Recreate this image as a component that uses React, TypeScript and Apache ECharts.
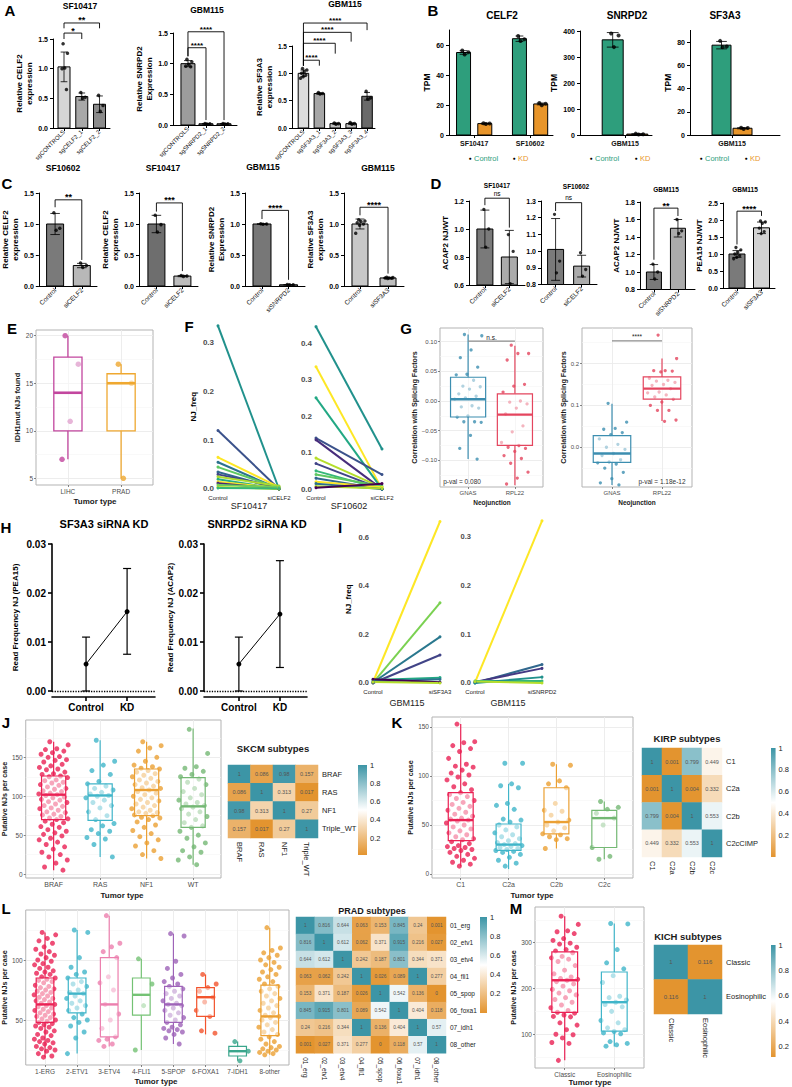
import React, { useEffect, useRef } from "react";
import * as echarts from "echarts";

const FONT = "'Liberation Sans', Arial, Helvetica, sans-serif";
const TEAL = "#3c95a6";
const ORNG = "#e3942f";
const GREEN_B = "#2e9e7c";
const ORANGE_B = "#e8952a";

/* ---------------- A ---------------- */
const aCelf2Cats = ["sgCONTROLS", "sgCELF2_1", "sgCELF2_2"];
const aCelf2Mean = [1.03, 0.53, 0.4];
const aCelf2Sd = [0.25, 0.06, 0.14];
const aCelf2Pts = [[1.42, 1.26, 1.01, 1.0, 0.65], [0.6, 0.52, 0.5], [0.55, 0.38, 0.28]];
const aCelf2Sig = ["*", "**"];
const aCelf2Brk = [[0, 1, 1.6, 1.5, 1.5], [0, 2, 1.77, 1.68, 1.68]];

const aSnrpd2Cats = ["sgCONTROLS", "sgSNRPD2_1", "sgSNRPD2_2"];
const aSnrpd2Mean = [1.0, 0.02, 0.02];
const aSnrpd2Sd = [0.05, 0.005, 0.005];
const aSnrpd2Pts = [[1.07, 1.03, 0.99, 0.96, 0.95], [0.026, 0.02, 0.018], [0.025, 0.021, 0.018]];
const aSnrpd2Sig = ["****", "****"];
const aSnrpd2Brk = [[0, 1, 1.26, 1.12, 0.08], [0, 2, 1.52, 1.12, 0.08]];

const aSf3a3Cats = ["sgCONTROLS", "sgSF3A3_1", "sgSF3A3_2", "sgSF3A3_3", "sgSF3A3_4"];
const aSf3a3Mean = [1.0, 0.63, 0.08, 0.08, 0.58];
const aSf3a3Sd = [0.06, 0.015, 0.012, 0.015, 0.07];
const aSf3a3Pts = [[1.09, 1.06, 1.03, 1.0, 0.97, 0.94, 0.91], [0.65, 0.63, 0.62], [0.09, 0.08, 0.07], [0.1, 0.08, 0.07], [0.67, 0.55, 0.53]];
const aSf3a3Sig = ["****", "****", "****", "****"];
const aSf3a3Brk = [[0, 1, 1.24, 1.14, 1.14], [0, 2, 1.55, 1.14, 1.36], [0, 3, 1.75, 1.14, 1.58], [0, 4, 1.92, 1.14, 1.79]];

/* ---------------- B ---------------- */
const bCelf2Lines = ["SF10417", "SF10602"];
const bCelf2CtrlMean = [55, 64.2];
const bCelf2CtrlSd = [1.2, 1.8];
const bCelf2CtrlPts = [[56.3, 55.2, 53.6], [66.0, 63.8, 62.6]];
const bCelf2KdMean = [7.6, 20.7];
const bCelf2KdSd = [0.3, 0.6];
const bCelf2KdPts = [[7.9, 7.6, 7.3], [21.4, 20.9, 19.9]];
const bSnrpd2Lines = ["GBM115"];
const bSnrpd2CtrlMean = [366];
const bSnrpd2CtrlSd = [28];
const bSnrpd2CtrlPts = [[390, 383, 338]];
const bSnrpd2KdMean = [3.5];
const bSnrpd2KdSd = [1.6];
const bSnrpd2KdPts = [[5.3, 3.1, 2.2]];
const bSf3a3Lines = ["GBM115"];
const bSf3a3CtrlMean = [77.3];
const bSf3a3CtrlSd = [3.2];
const bSf3a3CtrlPts = [[81, 76.2, 75.6]];
const bSf3a3KdMean = [5.8];
const bSf3a3KdSd = [0.5];
const bSf3a3KdPts = [[6.3, 6.0, 5.1]];
const bLegend = ["Control", "KD"];

/* ---------------- C ---------------- */
const cSf10602Cats = ["Control", "siCELF2"];
const cSf10602Mean = [1.0, 0.33];
const cSf10602Sd = [0.17, 0.035];
const cSf10602Pts = [[1.18, 0.93, 0.9], [0.37, 0.33, 0.3]];
const cSf10602Sig = ["**"];
const cSf10602Brk = [[0, 1, 1.39, 1.27, 0.42]];
const cSf10417Cats = ["Control", "siCELF2"];
const cSf10417Mean = [1.0, 0.16];
const cSf10417Sd = [0.14, 0.01];
const cSf10417Pts = [[1.14, 0.99, 0.87], [0.17, 0.16, 0.155]];
const cSf10417Sig = ["***"];
const cSf10417Brk = [[0, 1, 1.34, 1.2, 0.24]];
const cSnrpd2Cats = ["Control", "siSNRPD2"];
const cSnrpd2Mean = [1.0, 0.02];
const cSnrpd2Sd = [0.005, 0.003];
const cSnrpd2Pts = [[1.003, 1.0, 0.997], [0.024, 0.02, 0.018]];
const cSnrpd2Sig = ["****"];
const cSnrpd2Brk = [[0, 1, 1.22, 1.08, 0.1]];
const cSf3a3Cats = ["Control", "siSF3A3"];
const cSf3a3Mean = [1.0, 0.13];
const cSf3a3Sd = [0.08, 0.008];
const cSf3a3Pts = [[1.07, 1.05, 1.04, 1.02, 1.0, 0.98, 0.85], [0.14, 0.135, 0.13, 0.13, 0.125, 0.12]];
const cSf3a3Sig = ["****"];
const cSf3a3Brk = [[0, 1, 1.27, 1.14, 0.2]];

/* ---------------- D ---------------- */
const dSf10417Cats = ["Control", "siCELF2"];
const dSf10417Mean = [1.0, 0.8];
const dSf10417Sd = [0.135, 0.19];
const dSf10417Pts = [[1.14, 1.0, 0.87], [0.96, 0.84, 0.61]];
const dSf10417Sig = ["ns"];
const dSf10417Brk = [[0, 1, 1.22, 1.17, 1.01]];
const dSf10602Cats = ["Control", "siCELF2"];
const dSf10602Mean = [1.01, 0.91];
const dSf10602Sd = [0.185, 0.065];
const dSf10602Pts = [[1.22, 0.94, 0.87], [0.99, 0.89, 0.85]];
const dSf10602Sig = ["ns"];
const dSf10602Brk = [[0, 1, 1.29, 1.24, 1.0]];
const dAcap2Cats = ["Control", "siSNRPD2"];
const dAcap2Mean = [1.0, 1.5];
const dAcap2Sd = [0.085, 0.1];
const dAcap2Pts = [[1.09, 1.0, 0.92], [1.6, 1.47, 1.44]];
const dAcap2Sig = ["**"];
const dAcap2Brk = [[0, 1, 1.73, 1.14, 1.64]];
const dPea15Cats = ["Control", "siSF3A3"];
const dPea15Mean = [1.0, 1.77];
const dPea15Sd = [0.1, 0.17];
const dPea15Pts = [[1.19, 1.12, 1.05, 1.0, 0.95, 0.9, 0.86], [1.97, 1.94, 1.9, 1.76, 1.66, 1.6]];
const dPea15Sig = ["****"];
const dPea15Brk = [[0, 1, 2.26, 1.28, 2.12]];

/* ---------------- E ---------------- */
const eCats = ["LIHC", "PRAD"];
const eBox = [[7, 10, 14, 17.75, 20], [5, 10, 15, 16, 17]];
const eLihc = [20, 17, 11, 7];
const ePrad = [17, 15, 5];

/* ---------------- F ---------------- */
const fNames1 = ["Control", "siCELF2"];
const fSf10417Ctrl = [0.335, 0.12, 0.065, 0.055, 0.045, 0.035, 0.03, 0.025, 0.02, 0.015, 0.012, 0.008, 0.004, 0.002];
const fSf10417Kd = [0.0, 0.0, 0.004, 0.0, 0.002, 0.0, 0.003, 0.006, 0.0, 0.002, 0.0, 0.004, 0.0, 0.001];
const fSf10417Col = ["#21918c", "#3b528b", "#fde725", "#2c728e", "#5ec962", "#31688e", "#414487", "#addc30", "#28ae80", "#fde725", "#482878", "#6ece58", "#b5de2b", "#35b779"];
const fSf10602Ctrl = [0.445, 0.335, 0.25, 0.14, 0.135, 0.085, 0.07, 0.05, 0.04, 0.03, 0.02, 0.015, 0.008, 0.004];
const fSf10602Kd = [0.11, 0.0, 0.0, 0.04, 0.0, 0.004, 0.0, 0.0, 0.008, 0.0, 0.005, 0.0, 0.002, 0.015];
const fSf10602Col = ["#21918c", "#fde725", "#22a884", "#3b528b", "#472d7b", "#b5de2b", "#414487", "#35b779", "#5ec962", "#31688e", "#fde725", "#2c728e", "#addc30", "#440154"];

/* ---------------- G ---------------- */
const gCats = ["GNAS", "RPL22"];
const gAllBox = [[-0.098, -0.027, 0.003, 0.04, 0.112], [-0.142, -0.075, -0.023, 0.012, 0.093]];
const gAllGnas = [0.112, 0.11, 0.086, 0.073, 0.057, 0.045, 0.044, 0.035, 0.025, 0.024, 0.02, 0.012, 0.008, 0.005, 0.003, -0.008, -0.01, -0.012, -0.025, -0.027, -0.035, -0.035, -0.036, -0.058, -0.08, -0.098];
const gAllRpl22 = [0.094, 0.08, 0.08, 0.069, 0.028, 0.025, 0.015, 0.0, -0.002, -0.005, -0.012, -0.022, -0.042, -0.052, -0.07, -0.075, -0.078, -0.08, -0.085, -0.092, -0.097, -0.105, -0.12, -0.13, -0.14];
const gSfBox = [[-0.09, -0.036, -0.015, 0.028, 0.104], [0.063, 0.115, 0.14, 0.168, 0.212]];
const gSfGnas = [0.105, 0.06, 0.045, 0.043, 0.035, 0.03, 0.02, 0.007, 0.0, -0.005, -0.015, -0.02, -0.03, -0.035, -0.037, -0.04, -0.05, -0.06, -0.075, -0.085, -0.09];
const gSfRpl22 = [0.268, 0.212, 0.183, 0.183, 0.182, 0.18, 0.165, 0.16, 0.158, 0.155, 0.15, 0.148, 0.14, 0.132, 0.13, 0.125, 0.12, 0.115, 0.108, 0.1, 0.088, 0.088, 0.065, 0.062];
const gAllPval = "p-val = 0.080";
const gSfPval = "p-val = 1.18e-12";

/* ---------------- H ---------------- */
const hCats = ["Control", "KD"];
const hSf3a3Mean = [0.0055, 0.0162];
const hSf3a3Lo = [0.0, 0.0075];
const hSf3a3Hi = [0.011, 0.025];
const hSnrpd2Mean = [0.0055, 0.0157];
const hSnrpd2Lo = [0.0, 0.0048];
const hSnrpd2Hi = [0.011, 0.0266];

/* ---------------- I ---------------- */
const iNames1 = ["Control", "siSF3A3"];
const iSf3a3Ctrl = [0.003, 0.0, 0.002, 0.0, 0.012, 0.006, 0.015, 0.004];
const iSf3a3Kd = [0.665, 0.33, 0.19, 0.115, 0.022, 0.015, 0.003, 0.0];
const iSf3a3Col = ["#fde725", "#7ad151", "#2a788e", "#414487", "#22a884", "#2c728e", "#440154", "#b5de2b"];
const iNames2 = ["Control", "siSNRPD2"];
const iSnrpd2Ctrl = [0.001, 0.0, 0.002, 0.004, 0.0, 0.003];
const iSnrpd2Kd = [0.333, 0.038, 0.03, 0.004, 0.012, 0.0];
const iSnrpd2Col = ["#fde725", "#31688e", "#443983", "#35b779", "#21918c", "#b5de2b"];

/* ---------------- J ---------------- */
const jCats = ["BRAF", "RAS", "NF1", "WT"];
const jBox = [[5, 70, 102, 126, 170], [22, 69, 101, 116, 172], [20, 75, 108, 135, 170], [12, 60, 87, 124, 187]];
const jBraf = [170, 166, 161, 160, 158, 156, 154, 151, 150, 147, 146, 144, 141, 139, 137, 135, 134, 131, 129, 128, 126, 125, 124, 121, 120, 118, 117, 115, 114, 112, 110, 109, 107, 106, 104, 103, 102, 101, 99, 98, 96, 95, 93, 92, 90, 88, 87, 85, 84, 82, 80, 79, 77, 76, 74, 72, 71, 70, 68, 66, 64, 61, 60, 57, 55, 53, 51, 49, 46, 44, 41, 38, 35, 32, 28, 25, 22, 18, 14, 9, 5];
const jRas = [172, 145, 140, 133, 128, 119, 116, 113, 110, 108, 105, 103, 101, 100, 98, 95, 92, 88, 85, 80, 75, 70, 65, 62, 57, 55, 52, 47, 45, 38, 22];
const jNf1 = [170, 165, 162, 158, 150, 145, 140, 138, 136, 135, 133, 131, 129, 127, 125, 123, 121, 119, 117, 115, 113, 111, 110, 108, 106, 104, 102, 100, 98, 96, 94, 92, 90, 88, 86, 84, 82, 80, 79, 78, 76, 75, 73, 72, 70, 67, 63, 60, 56, 52, 48, 44, 40, 36, 30, 25, 20];
const jWt = [186, 155, 138, 136, 132, 128, 125, 122, 118, 115, 110, 106, 102, 98, 95, 92, 90, 88, 86, 84, 80, 77, 74, 70, 66, 62, 60, 55, 50, 46, 40, 35, 30, 28, 22, 18, 12];

/* ---------------- K ---------------- */
const kCats = ["C1", "C2a", "C2b", "C2c"];
const kBox = [[8, 34, 55, 83, 153], [5, 24, 30, 51, 92], [26, 41, 53, 88, 112], [15, 27, 57, 65, 74]];
const kC1 = [153, 135, 134, 131, 128, 125, 118, 112, 110, 109, 106, 103, 101, 99, 96, 92, 89, 86, 83, 81, 79, 77, 75, 73, 71, 69, 67, 65, 63, 61, 59, 57, 56, 55, 54, 52, 50, 48, 46, 44, 42, 40, 38, 36, 35, 33, 31, 29, 28, 27, 26, 25, 24, 22, 20, 18, 16, 14, 12, 10, 8];
const kC2a = [113, 113, 92, 90, 88, 72, 70, 66, 56, 55, 53, 50, 48, 45, 42, 40, 38, 36, 34, 32, 31, 30, 29, 28, 27, 26, 25, 24, 23, 22, 20, 17, 14, 11, 8];
const kC2b = [112, 111, 95, 92, 88, 72, 65, 64, 60, 55, 53, 50, 47, 44, 41, 40, 38, 36, 35, 26];
const kC2c = [74, 68, 66, 62, 57, 50, 27, 18, 15];

/* ---------------- L ---------------- */
const lCats = ["1-ERG", "2-ETV1", "3-ETV4", "4-FLI1", "5-SPOP", "6-FOXA1", "7-IDH1", "8-other"];
const lBox = [[19, 48, 63, 85, 123], [22, 56, 72, 85, 125], [28, 36, 63, 102, 137], [25, 54, 71, 85, 101], [30, 48, 63, 78, 122], [38, 53, 69, 77, 88], [16, 20, 24, 28, 32], [21, 37, 53, 79, 127]];
const lErg = [123, 121, 118, 116, 114, 111, 109, 107, 105, 104, 102, 100, 99, 97, 96, 94, 93, 91, 90, 89, 88, 86, 85, 84, 83, 82, 81, 79, 78, 77, 76, 75, 74, 73, 72, 71, 70, 69, 68, 67, 66, 65, 64, 63, 62, 61, 60, 59, 58, 57, 56, 55, 54, 53, 52, 51, 50, 49, 48, 47, 46, 45, 44, 43, 41, 40, 38, 37, 35, 34, 33, 32, 31, 30, 28, 27, 26, 25, 24, 22, 20, 19];
const lEtv1 = [125, 123, 102, 94, 90, 88, 85, 82, 80, 78, 75, 73, 72, 70, 68, 66, 64, 62, 60, 58, 55, 52, 50, 48, 45, 40, 35, 22];
const lEtv4 = [137, 114, 111, 107, 102, 86, 81, 75, 63, 55, 50, 43, 36, 34, 33, 30, 28];
const lFli1 = [101, 80, 62, 25];
const lSpop = [122, 120, 99, 93, 88, 85, 82, 80, 78, 76, 74, 72, 70, 68, 66, 64, 63, 62, 60, 58, 56, 54, 52, 50, 48, 46, 44, 43, 42, 41, 40, 38, 35, 30];
const lFoxa1 = [88, 80, 77, 74, 69, 65, 58, 53, 41, 39];
const lIdh1 = [32, 24, 16];
const lOther = [127, 110, 108, 106, 104, 102, 100, 98, 96, 94, 92, 90, 88, 86, 84, 82, 80, 78, 76, 74, 72, 70, 68, 66, 64, 62, 60, 58, 56, 54, 53, 52, 50, 48, 46, 44, 42, 40, 38, 36, 34, 32, 30, 28, 27, 26, 25, 24, 23, 22, 21];

/* ---------------- M ---------------- */
const mCats = ["Classic", "Eosinophilic"];
const mBox = [[43, 148, 218, 280, 358], [73, 107, 170, 236, 342]];
const mClassic = [358, 340, 326, 324, 320, 309, 305, 299, 297, 290, 285, 282, 278, 270, 267, 264, 259, 250, 240, 232, 225, 222, 220, 218, 215, 210, 205, 198, 195, 190, 186, 180, 176, 170, 164, 158, 152, 148, 146, 142, 139, 138, 125, 120, 110, 100, 99, 92, 82, 80, 43];
const mEosino = [342, 341, 285, 256, 243, 228, 213, 183, 180, 175, 170, 165, 160, 150, 130, 125, 114, 110, 106, 103, 101, 84, 80, 77, 74];

/* ---------------- heatmaps ---------------- */
const skcmLabels = ["BRAF", "RAS", "NF1", "Triple_WT"];
const skcmMat = [[1, 0.086, 0.98, 0.157], [0.086, 1, 0.313, 0.017], [0.98, 0.313, 1, 0.27], [0.157, 0.017, 0.27, 1]];
const kirpRows = ["C1", "C2a", "C2b", "C2cCIMP"];
const kirpCols = ["C1", "C2a", "C2b", "C2c"];
const kirpMat = [[1, 0.001, 0.799, 0.449], [0.001, 1, 0.004, 0.332], [0.799, 0.004, 1, 0.553], [0.449, 0.332, 0.553, 1]];
const pradLabels = ["01_erg", "02_etv1", "03_etv4", "04_fli1", "05_spop", "06_foxa1", "07_idh1", "08_other"];
const pradMat = [
  [1, 0.816, 0.644, 0.063, 0.153, 0.845, 0.24, 0.001],
  [0.816, 1, 0.612, 0.062, 0.371, 0.915, 0.216, 0.027],
  [0.644, 0.612, 1, 0.242, 0.187, 0.801, 0.344, 0.371],
  [0.063, 0.062, 0.242, 1, 0.026, 0.089, 1, 0.277],
  [0.153, 0.371, 0.187, 0.026, 1, 0.542, 0.136, 0],
  [0.845, 0.915, 0.801, 0.089, 0.542, 1, 0.404, 0.118],
  [0.24, 0.216, 0.344, 1, 0.136, 0.404, 1, 0.57],
  [0.001, 0.027, 0.371, 0.277, 0, 0.118, 0.57, 1],
];
const kichLabels = ["Classic", "Eosinophilic"];
const kichMat = [[1, 0.116], [0.116, 1]];
const cbTicks = [0.2, 0.4, 0.6, 0.8, 1];

/* ================= helpers ================= */
function jit(k: number): number {
  const f = (k * 0.6180339887 + 0.37) % 1;
  return f * 2 - 1;
}
function nearest(arr: number[], v: number): number {
  let bi = 0;
  let bd = Infinity;
  arr.forEach((a, i) => {
    const d = Math.abs(a - v);
    if (d < bd) { bd = d; bi = i; }
  });
  return bi;
}
function addGrid(o: any, l: number, t: number, w: number, h: number, extra: any = {}) {
  o.grid.push({ left: l, top: t, width: w, height: h, containLabel: false, ...extra });
  return o.grid.length - 1;
}
function addX(o: any, gi: number, opt: any) {
  o.xAxis.push({ gridIndex: gi, ...opt });
  return o.xAxis.length - 1;
}
function addY(o: any, gi: number, opt: any) {
  o.yAxis.push({ gridIndex: gi, ...opt });
  return o.yAxis.length - 1;
}
function txt(o: any, x: number, y: number, s: string, size: number, opt: any = {}) {
  const align = opt.align || "center";
  o.graphic.push({
    type: "text", x, y, rotation: opt.rot || 0, silent: true, z: 100,
    style: {
      text: s, fontSize: size, fontWeight: opt.bold ? "bold" : "normal", fontFamily: FONT,
      fill: opt.color || "#000", align, textAlign: align, verticalAlign: "middle", textVerticalAlign: "middle",
    },
  });
}
const errRender = (cap: number, lw: number) => (params: any, api: any) => {
  const x = api.value(0);
  const a = api.coord([x, api.value(1)]);
  const b = api.coord([x, api.value(2)]);
  const st = { stroke: "#000", lineWidth: lw };
  return {
    type: "group",
    children: [
      { type: "line", shape: { x1: a[0], y1: a[1], x2: b[0], y2: b[1] }, style: st },
      { type: "line", shape: { x1: a[0] - cap, y1: a[1], x2: a[0] + cap, y2: a[1] }, style: st },
      { type: "line", shape: { x1: b[0] - cap, y1: b[1], x2: b[0] + cap, y2: b[1] }, style: st },
    ],
  };
};

/* GraphPad-style bar chart */
function gpBars(o: any, s: any) {
  const gi = addGrid(o, s.left, s.top, s.width, s.height);
  const xi = addX(o, gi, {
    type: "value", min: s.xMin, max: s.xMax,
    axisLine: { show: true, onZero: false, lineStyle: { color: "#000", width: 1 } },
    axisTick: { show: true, length: 3, customValues: s.catPos, lineStyle: { color: "#000", width: 1 } },
    axisLabel: {
      customValues: s.catPos, formatter: (v: number) => s.cats[nearest(s.catPos, v)],
      rotate: s.rotate || 0, fontSize: s.catFont, fontWeight: s.catBold ? "bold" : "normal",
      color: "#111", margin: s.catMargin || 4, fontFamily: FONT,
    },
    splitLine: { show: false },
  });
  const nf = s.nameFont || 8;
  const yi = addY(o, gi, {
    type: "value", min: s.yMin, max: s.yMax,
    axisLine: { show: true, onZero: false, lineStyle: { color: "#000", width: 1 } },
    axisTick: { show: true, length: 3, customValues: s.ticks, lineStyle: { color: "#000", width: 1 } },
    axisLabel: {
      customValues: s.ticks, formatter: (v: number) => v.toFixed(s.dec),
      fontSize: s.tickFont, fontWeight: "bold", color: "#000", margin: 5, fontFamily: FONT,
    },
    splitLine: { show: false },
    name: s.yName || "", nameLocation: "middle", nameGap: s.yNameGap,
    nameTextStyle: { fontSize: nf, fontWeight: "bold", color: "#000", fontFamily: FONT, lineHeight: nf * 1.2 },
  });
  const bars = s.bars;
  o.series.push({
    type: "custom", xAxisIndex: xi, yAxisIndex: yi, z: 2, silent: true, clip: false,
    data: bars.map((b: any, i: number) => [b.x, b.mean, i]),
    renderItem: (params: any, api: any) => {
      const i = api.value(2);
      const p0 = api.coord([api.value(0), s.yMin]);
      const p1 = api.coord([api.value(0), api.value(1)]);
      return {
        type: "rect",
        shape: { x: p0[0] - s.barW / 2, y: p1[1], width: s.barW, height: p0[1] - p1[1] },
        style: { fill: bars[i].color, stroke: "#000", lineWidth: 1 },
      };
    },
  });
  o.series.push({
    type: "custom", xAxisIndex: xi, yAxisIndex: yi, z: 3, silent: true, clip: false,
    data: bars.map((b: any) => [b.x, b.mean - b.sd, b.mean + b.sd]),
    renderItem: errRender(s.barW * 0.28, 0.8),
  });
  const pts: number[][] = [];
  bars.forEach((b: any) => b.pts.forEach((v: number, k: number) => pts.push([b.x + jit(k) * s.jw, v])));
  o.series.push({
    type: "scatter", xAxisIndex: xi, yAxisIndex: yi, z: 4, silent: true, clip: false,
    data: pts, symbolSize: s.ptSize, itemStyle: { color: "#000" },
  });
  if (s.brk) {
    o.series.push({
      type: "custom", xAxisIndex: xi, yAxisIndex: yi, z: 5, silent: true, clip: false,
      data: s.brk.map((b: number[], i: number) => [b[0], b[1], b[2], b[3], b[4], i]),
      renderItem: (params: any, api: any) => {
        const xa = bars[api.value(0)].x;
        const xb = bars[api.value(1)].x;
        const yl = api.value(2);
        const a0 = api.coord([xa, api.value(3)]);
        const a1 = api.coord([xa, yl]);
        const b1 = api.coord([xb, yl]);
        const b0 = api.coord([xb, api.value(4)]);
        const label = s.sig[api.value(5)];
        const isNs = label === "ns";
        return {
          type: "group",
          children: [
            { type: "polyline", shape: { points: [a0, a1, b1, b0] }, style: { stroke: "#000", lineWidth: 0.9, fill: "none" } },
            {
              type: "text", x: (a1[0] + b1[0]) / 2, y: a1[1] - (isNs ? 5 : 2.5),
              style: {
                text: label, fontSize: isNs ? 6.5 : s.sigFont, fontWeight: isNs ? "normal" : "bold", fill: "#000", fontFamily: FONT,
                align: "center", textAlign: "center", verticalAlign: "middle", textVerticalAlign: "middle",
              },
            },
          ],
        };
      },
    });
  }
}

function simpleBars(means: number[], sd: number[], pts: number[][], colors: string[]) {
  return means.map((m, i) => ({ x: i, mean: m, sd: sd[i], pts: pts[i], color: colors[i] }));
}

/* ggplot-style boxplot */
function ggBox(o: any, s: any) {
  const n = s.cats.length;
  const pos = s.cats.map((_: any, i: number) => i);
  const gi = addGrid(o, s.left, s.top, s.width, s.height, { show: true, borderColor: "#b3b3b3", borderWidth: 1, backgroundColor: "#fff" });
  const xi = addX(o, gi, {
    type: "value", min: -0.6, max: n - 0.4,
    axisLine: { show: false, onZero: false },
    axisTick: { show: true, length: 2, customValues: pos, lineStyle: { color: "#666", width: 0.8 } },
    axisLabel: { customValues: pos, formatter: (v: number) => s.cats[Math.round(v)], fontSize: s.catFont, color: "#4d4d4d", margin: 3, fontFamily: FONT },
    splitLine: { show: true, lineStyle: { color: "#ebebeb", width: 0.9 } },
  });
  const yi = addY(o, gi, {
    type: "value", min: s.yMin, max: s.yMax,
    axisLine: { show: false, onZero: false },
    axisTick: { show: true, length: 2, customValues: s.ticks, lineStyle: { color: "#666", width: 0.8 } },
    axisLabel: { customValues: s.ticks, formatter: s.fmt, fontSize: s.tickFont, color: "#4d4d4d", margin: 3, fontFamily: FONT },
    splitLine: { show: true, lineStyle: { color: "#ebebeb", width: 0.9 } },
    name: s.yName, nameLocation: "middle", nameGap: s.yNameGap,
    nameTextStyle: { fontSize: s.nameFont, fontWeight: "bold", color: "#1a1a1a", fontFamily: FONT },
  });
  addY(o, gi, {
    type: "value", min: s.yMin, max: s.yMax, position: "left",
    axisLine: { show: false, onZero: false },
    axisTick: { show: false, customValues: s.minor },
    axisLabel: { show: false, customValues: s.minor },
    splitLine: { show: true, lineStyle: { color: "#f5f5f5", width: 0.6 } },
  });
  const data: any[] = [];
  s.pts.forEach((arr: number[], i: number) =>
    arr.forEach((v: number, k: number) => data.push({ value: [i + jit(k) * s.jw, v], itemStyle: { color: s.colors[i] } }))
  );
  o.series.push({ type: "scatter", xAxisIndex: xi, yAxisIndex: yi, z: 2, silent: true, data, symbolSize: s.ptSize });
  const lw = s.lw || 1.1;
  o.series.push({
    type: "custom", xAxisIndex: xi, yAxisIndex: yi, z: 3, silent: true, clip: false,
    data: s.boxes.map((b: number[], i: number) => [i, b[0], b[1], b[2], b[3], b[4]]),
    renderItem: (params: any, api: any) => {
      const i = api.value(0);
      const c = s.colors[i];
      const lo = api.coord([i, api.value(1)]);
      const q1 = api.coord([i, api.value(2)]);
      const md = api.coord([i, api.value(3)]);
      const q3 = api.coord([i, api.value(4)]);
      const hi = api.coord([i, api.value(5)]);
      const hw = api.size([s.boxW, 0])[0] / 2;
      const ls = { stroke: c, lineWidth: lw };
      return {
        type: "group",
        children: [
          { type: "line", shape: { x1: hi[0], y1: hi[1], x2: q3[0], y2: q3[1] }, style: ls },
          { type: "line", shape: { x1: q1[0], y1: q1[1], x2: lo[0], y2: lo[1] }, style: ls },
          { type: "rect", shape: { x: q3[0] - hw, y: q3[1], width: 2 * hw, height: q1[1] - q3[1] }, style: { fill: "rgba(255,255,255,0.5)", stroke: c, lineWidth: lw } },
          { type: "line", shape: { x1: md[0] - hw, y1: md[1], x2: md[0] + hw, y2: md[1] }, style: { stroke: c, lineWidth: lw * 2 } },
        ],
      };
    },
  });
  if (s.sig) {
    o.series.push({
      type: "custom", xAxisIndex: xi, yAxisIndex: yi, z: 4, silent: true, clip: false,
      data: [[s.sig.x0, s.sig.x1, s.sig.y]],
      renderItem: (params: any, api: any) => {
        const a = api.coord([api.value(0), api.value(2)]);
        const b = api.coord([api.value(1), api.value(2)]);
        return {
          type: "group",
          children: [
            { type: "line", shape: { x1: a[0], y1: a[1], x2: b[0], y2: b[1] }, style: { stroke: "#8c8c8c", lineWidth: 1.2 } },
            {
              type: "text", x: (a[0] + b[0]) / 2, y: a[1] - 4,
              style: { text: s.sig.text, fontSize: 6.5, fill: "#222", fontFamily: FONT, align: "center", textAlign: "center", verticalAlign: "middle", textVerticalAlign: "middle" },
            },
          ],
        };
      },
    });
  }
}

/* paired line chart */
function pairLines(o: any, s: any) {
  const gi = addGrid(o, s.left, s.top, s.width, s.height);
  const xi = addX(o, gi, {
    type: "category", data: s.xNames, boundaryGap: false,
    axisLine: { show: false, onZero: false }, axisTick: { show: false },
    axisLabel: { fontSize: s.xFont, color: "#1a1a1a", margin: s.xMargin, interval: 0, fontFamily: FONT },
    splitLine: { show: false },
  });
  const yi = addY(o, gi, {
    type: "value", min: s.yMin, max: s.yMax,
    axisLine: { show: false, onZero: false }, axisTick: { show: false },
    axisLabel: { customValues: s.ticks, formatter: (v: number) => v.toFixed(1), fontSize: s.tickFont, fontWeight: "bold", color: "#4d4d4d", margin: 4, fontFamily: FONT },
    splitLine: { show: false },
    name: s.yName || "", nameLocation: "middle", nameGap: s.yNameGap || 20,
    nameTextStyle: { fontSize: 8, fontWeight: "bold", color: "#000", fontFamily: FONT },
  });
  s.starts.forEach((v: number, i: number) => {
    o.series.push({
      type: "line", xAxisIndex: xi, yAxisIndex: yi, z: 2, silent: true,
      data: [v, s.ends[i]], symbol: "circle", symbolSize: 3, showSymbol: true,
      lineStyle: { color: s.colors[i], width: 2 }, itemStyle: { color: s.colors[i] },
    });
  });
}

/* point + range chart (H) */
function pointRange(o: any, s: any) {
  const gi = addGrid(o, s.left, s.top, s.width, s.height);
  const pos = s.cats.map((_: any, i: number) => i);
  const xi = addX(o, gi, {
    type: "value", min: s.xMin, max: s.xMax, offset: 6,
    axisLine: { show: true, onZero: false, lineStyle: { color: "#000", width: 1.6 } },
    axisTick: { show: true, length: 4, customValues: pos, lineStyle: { color: "#000", width: 1.6 } },
    axisLabel: { customValues: pos, formatter: (v: number) => s.cats[Math.round(v)], fontSize: 10, fontWeight: "bold", color: "#000", margin: 5, fontFamily: FONT },
    splitLine: { show: false },
  });
  const yi = addY(o, gi, {
    type: "value", min: 0, max: 0.03,
    axisLine: { show: true, onZero: false, lineStyle: { color: "#000", width: 1.6 } },
    axisTick: { show: true, length: 4, customValues: [0, 0.01, 0.02, 0.03], lineStyle: { color: "#000", width: 1.6 } },
    axisLabel: { customValues: [0, 0.01, 0.02, 0.03], formatter: (v: number) => v.toFixed(2), fontSize: 10, fontWeight: "bold", color: "#000", margin: 6, fontFamily: FONT },
    splitLine: { show: false },
    name: s.yName, nameLocation: "middle", nameGap: s.yNameGap,
    nameTextStyle: { fontSize: 8, fontWeight: "bold", color: "#000", fontFamily: FONT },
  });
  o.series.push({
    type: "line", xAxisIndex: xi, yAxisIndex: yi, z: 4, silent: true,
    data: s.mean.map((m: number, i: number) => [i, m]),
    symbol: "circle", symbolSize: 5, lineStyle: { color: "#000", width: 1 }, itemStyle: { color: "#000" },
    markLine: { silent: true, symbol: ["none", "none"], label: { show: false }, lineStyle: { type: "dotted", color: "#000", width: 1.3 }, data: [{ yAxis: 0 }] },
  });
  o.series.push({
    type: "custom", xAxisIndex: xi, yAxisIndex: yi, z: 3, silent: true, clip: false,
    data: s.mean.map((m: number, i: number) => [i, s.lo[i], s.hi[i]]),
    renderItem: errRender(4, 1.2),
  });
}

/* heatmap + colour bar */
function heat(o: any, s: any) {
  const gi = addGrid(o, s.left, s.top, s.width, s.height);
  const xi = addX(o, gi, {
    type: "category", data: s.cols, position: "bottom",
    axisLine: { show: false }, axisTick: { show: false },
    axisLabel: { rotate: -90, fontSize: s.labelFont, color: "#1a1a1a", margin: 4, interval: 0, fontFamily: FONT },
    splitLine: { show: false },
  });
  const yi = addY(o, gi, {
    type: "category", data: s.rows, inverse: true, position: "right",
    axisLine: { show: false }, axisTick: { show: false },
    axisLabel: { fontSize: s.labelFont, color: "#1a1a1a", margin: 4, interval: 0, fontFamily: FONT },
    splitLine: { show: false },
  });
  const data: number[][] = [];
  s.mat.forEach((row: number[], r: number) => row.forEach((v: number, c: number) => data.push([c, r, v])));
  const si = o.series.length;
  o.series.push({
    type: "heatmap", xAxisIndex: xi, yAxisIndex: yi, silent: true, data,
    label: { show: true, fontSize: s.cellFont, color: "#555", fontFamily: FONT, formatter: (p: any) => String(p.value[2]) },
    itemStyle: { borderWidth: 0 },
  });
  o.visualMap.push({ type: "continuous", show: false, seriesIndex: si, dimension: 2, min: s.vmin, max: 1, inRange: { color: [ORNG, "#ffffff", TEAL] } });
  const cg = addGrid(o, s.cb[0], s.cb[1], s.cb[2], s.cb[3]);
  const cx = addX(o, cg, { type: "value", min: 0, max: 1, show: false });
  const cy = addY(o, cg, {
    type: "value", min: s.vmin, max: 1, position: "right",
    axisLine: { show: false, onZero: false }, axisTick: { show: false },
    axisLabel: { customValues: cbTicks, formatter: (v: number) => (v === 1 ? "1" : v.toFixed(1)), fontSize: 7.5, color: "#1a1a1a", margin: 3, fontFamily: FONT },
    splitLine: { show: false },
  });
  o.series.push({
    type: "custom", xAxisIndex: cx, yAxisIndex: cy, silent: true, data: [[0.5, 0.5]],
    renderItem: (params: any) => {
      const cs = params.coordSys;
      return {
        type: "rect",
        shape: { x: cs.x, y: cs.y, width: cs.width, height: cs.height },
        style: {
          fill: new echarts.graphic.LinearGradient(0, 0, 0, 1, [
            { offset: 0, color: TEAL },
            { offset: 0.5, color: "#ffffff" },
            { offset: 1, color: ORNG },
          ]),
        },
      };
    },
  });
}

/* ================= build ================= */
function buildOption() {
  const o: any = { grid: [], xAxis: [], yAxis: [], series: [], visualMap: [], graphic: [] };

  /* ---- A ---- */
  gpBars(o, {
    left: 53, top: 39, width: 57, height: 89, xMin: -0.62, xMax: 2.59, yMin: 0, yMax: 1.5, ticks: [0, 0.5, 1, 1.5], dec: 1,
    catPos: [0, 1, 2], cats: aCelf2Cats, rotate: 45, catFont: 6, catMargin: 3,
    bars: simpleBars(aCelf2Mean, aCelf2Sd, aCelf2Pts, ["#d6d6d6", "#a8a8a8", "#8a8a8a"]),
    barW: 12, jw: 0.2, ptSize: 3.5, brk: aCelf2Brk, sig: aCelf2Sig, sigFont: 9,
    yName: "Relative CELF2\nexpression", yNameGap: 17, tickFont: 7,
  });
  gpBars(o, {
    left: 173, top: 33, width: 64, height: 92, xMin: -0.83, xMax: 2.72, yMin: 0, yMax: 1.5, ticks: [0, 0.5, 1, 1.5], dec: 1,
    catPos: [0, 1, 2], cats: aSnrpd2Cats, rotate: 45, catFont: 6, catMargin: 3,
    bars: simpleBars(aSnrpd2Mean, aSnrpd2Sd, aSnrpd2Pts, ["#9c9c9c", "#9c9c9c", "#9c9c9c"]),
    barW: 14, jw: 0.22, ptSize: 3.5, brk: aSnrpd2Brk, sig: aSnrpd2Sig, sigFont: 8,
    yName: "Relative SNRPD2\nExpression", yNameGap: 14, tickFont: 7,
  });
  gpBars(o, {
    left: 292, top: 46, width: 83, height: 82, xMin: -0.72, xMax: 4.5, yMin: 0, yMax: 1.5, ticks: [0, 0.5, 1, 1.5], dec: 1,
    catPos: [0, 1, 2, 3, 4], cats: aSf3a3Cats, rotate: 45, catFont: 6, catMargin: 3,
    bars: simpleBars(aSf3a3Mean, aSf3a3Sd, aSf3a3Pts, ["#dcdcdc", "#a6a6a6", "#bdbdbd", "#bdbdbd", "#6a6a6a"]),
    barW: 10.5, jw: 0.22, ptSize: 3.5, brk: aSf3a3Brk, sig: aSf3a3Sig, sigFont: 8,
    yName: "Relative SF3A3\nexpression", yNameGap: 15, tickFont: 6.5,
  });

  /* ---- B ---- */
  const bBarsCelf2 = [
    { x: -0.19, mean: bCelf2CtrlMean[0], sd: bCelf2CtrlSd[0], pts: bCelf2CtrlPts[0], color: GREEN_B },
    { x: 0.19, mean: bCelf2KdMean[0], sd: bCelf2KdSd[0], pts: bCelf2KdPts[0], color: ORANGE_B },
    { x: 0.81, mean: bCelf2CtrlMean[1], sd: bCelf2CtrlSd[1], pts: bCelf2CtrlPts[1], color: GREEN_B },
    { x: 1.19, mean: bCelf2KdMean[1], sd: bCelf2KdSd[1], pts: bCelf2KdPts[1], color: ORANGE_B },
  ];
  gpBars(o, {
    left: 449, top: 30, width: 104, height: 105, xMin: -0.45, xMax: 1.41, yMin: 0, yMax: 70, ticks: [0, 20, 40, 60], dec: 0,
    catPos: [0, 1], cats: bCelf2Lines, catFont: 7, catBold: true, catMargin: 5,
    bars: bBarsCelf2, barW: 14, jw: 0.09, ptSize: 4, yName: "TPM", yNameGap: 14, tickFont: 7, nameFont: 8.5,
  });
  gpBars(o, {
    left: 580, top: 31, width: 72, height: 104, xMin: -0.75, xMax: 0.45, yMin: 0, yMax: 400, ticks: [0, 100, 200, 300, 400], dec: 0,
    catPos: [0], cats: bSnrpd2Lines, catFont: 7, catBold: true, catMargin: 5,
    bars: [
      { x: -0.205, mean: bSnrpd2CtrlMean[0], sd: bSnrpd2CtrlSd[0], pts: bSnrpd2CtrlPts[0], color: GREEN_B },
      { x: 0.205, mean: bSnrpd2KdMean[0], sd: bSnrpd2KdSd[0], pts: bSnrpd2KdPts[0], color: ORANGE_B },
    ],
    barW: 21, jw: 0.1, ptSize: 4, yName: "TPM", yNameGap: 19, tickFont: 7, nameFont: 8.5,
  });
  gpBars(o, {
    left: 690, top: 30.4, width: 90, height: 104.6, xMin: -0.7, xMax: 0.8, yMin: 0, yMax: 90, ticks: [0, 20, 40, 60, 80], dec: 0,
    catPos: [0], cats: bSf3a3Lines, catFont: 7, catBold: true, catMargin: 5,
    bars: [
      { x: -0.175, mean: bSf3a3CtrlMean[0], sd: bSf3a3CtrlSd[0], pts: bSf3a3CtrlPts[0], color: GREEN_B },
      { x: 0.175, mean: bSf3a3KdMean[0], sd: bSf3a3KdSd[0], pts: bSf3a3KdPts[0], color: ORANGE_B },
    ],
    barW: 19, jw: 0.09, ptSize: 4, yName: "TPM", yNameGap: 14, tickFont: 7, nameFont: 8.5,
  });

  /* ---- C ---- */
  const cCommon = { top: 193, height: 93, yMin: 0, yMax: 1.5, ticks: [0, 0.5, 1, 1.5], dec: 1, catPos: [0, 1], rotate: 45, catFont: 6.5, catMargin: 3, jw: 0.18, ptSize: 3.5, sigFont: 9, tickFont: 7 };
  gpBars(o, { ...cCommon, left: 38, width: 59, xMin: -0.61, xMax: 1.57, cats: cSf10602Cats,
    bars: simpleBars(cSf10602Mean, cSf10602Sd, cSf10602Pts, ["#7a7a7a", "#b8b8b8"]), barW: 17,
    brk: cSf10602Brk, sig: cSf10602Sig, yName: "Relative CELF2\nexpression", yNameGap: 18 });
  gpBars(o, { ...cCommon, left: 139, width: 59, xMin: -0.67, xMax: 1.6, cats: cSf10417Cats,
    bars: simpleBars(cSf10417Mean, cSf10417Sd, cSf10417Pts, ["#6e6e6e", "#bcbcbc"]), barW: 17,
    brk: cSf10417Brk, sig: cSf10417Sig, yName: "Relative CELF2\nexpression", yNameGap: 19 });
  gpBars(o, { ...cCommon, left: 245, width: 60, xMin: -0.64, xMax: 1.62, cats: cSnrpd2Cats,
    bars: simpleBars(cSnrpd2Mean, cSnrpd2Sd, cSnrpd2Pts, ["#777777", "#9a9a9a"]), barW: 18,
    brk: cSnrpd2Brk, sig: cSnrpd2Sig, yName: "Relative SNRPD2\nExpression", yNameGap: 18 });
  gpBars(o, { ...cCommon, left: 344, width: 60, xMin: -0.57, xMax: 1.57, cats: cSf3a3Cats,
    bars: simpleBars(cSf3a3Mean, cSf3a3Sd, cSf3a3Pts, ["#c8c8c8", "#bdbdbd"]), barW: 16,
    brk: cSf3a3Brk, sig: cSf3a3Sig, yName: "Relative SF3A3\nexpression", yNameGap: 12 });

  /* ---- D ---- */
  const dCommon = { catPos: [0, 1], rotate: 45, catFont: 6.5, catMargin: 3, jw: 0.16, ptSize: 3.3, sigFont: 9, tickFont: 7 };
  gpBars(o, { ...dCommon, left: 469, top: 201, width: 56, height: 84, xMin: -0.65, xMax: 1.64, yMin: 0.6, yMax: 1.2, ticks: [0.6, 0.8, 1.0, 1.2], dec: 1,
    cats: dSf10417Cats, bars: simpleBars(dSf10417Mean, dSf10417Sd, dSf10417Pts, ["#7a7a7a", "#ababab"]), barW: 16,
    brk: dSf10417Brk, sig: dSf10417Sig, yName: "ACAP2 NJ/WT", yNameGap: 17 });
  gpBars(o, { ...dCommon, left: 541, top: 201, width: 56, height: 83.5, xMin: -0.56, xMax: 1.59, yMin: 0.8, yMax: 1.3, ticks: [0.8, 0.9, 1.0, 1.1, 1.2, 1.3], dec: 1,
    cats: dSf10602Cats, bars: simpleBars(dSf10602Mean, dSf10602Sd, dSf10602Pts, ["#7a7a7a", "#ababab"]), barW: 16,
    brk: dSf10602Brk, sig: dSf10602Sig, yName: "", yNameGap: 17 });
  gpBars(o, { ...dCommon, left: 640, top: 202, width: 55, height: 87.5, xMin: -0.58, xMax: 1.71, yMin: 0.8, yMax: 1.8, ticks: [0.8, 1.0, 1.2, 1.4, 1.6, 1.8], dec: 1,
    cats: dAcap2Cats, bars: simpleBars(dAcap2Mean, dAcap2Sd, dAcap2Pts, ["#7a7a7a", "#ababab"]), barW: 15,
    brk: dAcap2Brk, sig: dAcap2Sig, yName: "ACAP2 NJ/WT", yNameGap: 17 });
  gpBars(o, { ...dCommon, left: 723, top: 203, width: 52, height: 85, xMin: -0.57, xMax: 1.55, yMin: 0, yMax: 2.5, ticks: [0, 0.5, 1.0, 1.5, 2.0, 2.5], dec: 1,
    cats: dPea15Cats, bars: simpleBars(dPea15Mean, dPea15Sd, dPea15Pts, ["#7a7a7a", "#d2d2d2"]), barW: 16,
    brk: dPea15Brk, sig: dPea15Sig, yName: "PEA15 NJ/WT", yNameGap: 16 });

  /* ---- E ---- */
  ggBox(o, {
    left: 36, top: 330, width: 117, height: 155, yMin: 4.3, yMax: 20.6, ticks: [5, 10, 15, 20], minor: [7.5, 12.5, 17.5],
    fmt: (v: number) => String(v), cats: eCats, boxes: eBox, pts: [eLihc, ePrad], colors: ["#c2469e", "#efa830"],
    ptSize: 5.5, jw: 0.2, boxW: 0.53, lw: 1.3, yName: "IDH1mut NJs found", yNameGap: 13, nameFont: 7.5, catFont: 6.5, tickFont: 6.5,
  });

  /* ---- F ---- */
  pairLines(o, { left: 218, top: 321, width: 61, height: 171.4, yMin: -0.007, yMax: 0.345, ticks: [0, 0.1, 0.2, 0.3], xNames: fNames1,
    starts: fSf10417Ctrl, ends: fSf10417Kd, colors: fSf10417Col, tickFont: 8, xFont: 6, xMargin: 3, yName: "NJ_freq", yNameGap: 21 });
  pairLines(o, { left: 316, top: 323, width: 66, height: 169.4, yMin: -0.009, yMax: 0.455, ticks: [0, 0.1, 0.2, 0.3, 0.4], xNames: fNames1,
    starts: fSf10602Ctrl, ends: fSf10602Kd, colors: fSf10602Col, tickFont: 8, xFont: 6, xMargin: 3 });

  /* ---- G ---- */
  const gFmt2 = (v: number) => (v < 0 ? "\u2212" : "") + Math.abs(v).toFixed(2);
  ggBox(o, {
    left: 440, top: 328, width: 103, height: 159, yMin: -0.145, yMax: 0.123, ticks: [-0.1, -0.05, 0, 0.05, 0.1], minor: [-0.125, -0.075, -0.025, 0.025, 0.075],
    fmt: gFmt2, cats: gCats, boxes: gAllBox, pts: [gAllGnas, gAllRpl22], colors: ["#3c8eb0", "#e4455e"],
    ptSize: 3.3, jw: 0.3, boxW: 0.75, lw: 1.2, yName: "Correlation with Splicing Factors", yNameGap: 20, nameFont: 7.2, catFont: 6, tickFont: 6,
    sig: { x0: 0, x1: 1, y: 0.101, text: "n.s." },
  });
  ggBox(o, {
    left: 582, top: 328, width: 110, height: 159, yMin: -0.095, yMax: 0.285, ticks: [0, 0.1, 0.2], minor: [-0.05, 0.05, 0.15, 0.25],
    fmt: (v: number) => v.toFixed(1), cats: gCats, boxes: gSfBox, pts: [gSfGnas, gSfRpl22], colors: ["#3c8eb0", "#e4455e"],
    ptSize: 3.3, jw: 0.3, boxW: 0.75, lw: 1.2, yName: "Correlation with Splicing Factors", yNameGap: 14, nameFont: 7.2, catFont: 6, tickFont: 6,
    sig: { x0: 0, x1: 1, y: 0.254, text: "****" },
  });

  /* ---- H ---- */
  pointRange(o, { left: 52, top: 544, width: 103, height: 147, xMin: -0.83, xMax: 1.68, cats: hCats,
    mean: hSf3a3Mean, lo: hSf3a3Lo, hi: hSf3a3Hi, yName: "Read Frequency NJ (PEA15)", yNameGap: 33 });
  pointRange(o, { left: 204, top: 544, width: 103, height: 147, xMin: -0.85, xMax: 1.66, cats: hCats,
    mean: hSnrpd2Mean, lo: hSnrpd2Lo, hi: hSnrpd2Hi, yName: "Read Frequency NJ (ACAP2)", yNameGap: 30 });

  /* ---- I ---- */
  pairLines(o, { left: 373, top: 513, width: 67, height: 172.4, yMin: -0.01, yMax: 0.7, ticks: [0, 0.2, 0.4, 0.6], xNames: iNames1,
    starts: iSf3a3Ctrl, ends: iSf3a3Kd, colors: iSf3a3Col, tickFont: 7.5, xFont: 6, xMargin: 4, yName: "NJ_freq", yNameGap: 21 });
  pairLines(o, { left: 475, top: 515, width: 67, height: 170.4, yMin: -0.005, yMax: 0.345, ticks: [0, 0.1, 0.2, 0.3], xNames: iNames2,
    starts: iSnrpd2Ctrl, ends: iSnrpd2Kd, colors: iSnrpd2Col, tickFont: 7.5, xFont: 6, xMargin: 4 });

  /* ---- J ---- */
  const jkColors = ["#ea2154", "#40b5c9", "#eba033", "#74b874"];
  ggBox(o, {
    left: 23, top: 720, width: 198, height: 158, yMin: -5.1, yMax: 198, ticks: [0, 50, 100, 150], minor: [25, 75, 125, 175],
    fmt: (v: number) => String(v), cats: jCats, boxes: jBox, pts: [jBraf, jRas, jNf1, jWt], colors: jkColors,
    ptSize: 5, jw: 0.32, boxW: 0.52, lw: 1.2, yName: "Putative NJs per case", yNameGap: 12, nameFont: 7.2, catFont: 7, tickFont: 6.5,
  });
  heat(o, { left: 228, top: 765, width: 90, height: 73, rows: skcmLabels, cols: skcmLabels, mat: skcmMat, vmin: 0.017,
    cellFont: 5.5, labelFont: 7.5, cb: [358, 765, 9, 90] });

  /* ---- K ---- */
  ggBox(o, {
    left: 432, top: 717, width: 201, height: 161, yMin: -4.1, yMax: 160.2, ticks: [0, 50, 100, 150], minor: [25, 75, 125],
    fmt: (v: number) => String(v), cats: kCats, boxes: kBox, pts: [kC1, kC2a, kC2b, kC2c], colors: jkColors,
    ptSize: 5, jw: 0.3, boxW: 0.52, lw: 1.2, yName: "Putative NJs per case", yNameGap: 15, nameFont: 7.2, catFont: 7, tickFont: 6.5,
  });
  heat(o, { left: 642, top: 748, width: 80, height: 109, rows: kirpRows, cols: kirpCols, mat: kirpMat, vmin: 0.001,
    cellFont: 5.5, labelFont: 7.5, cb: [771, 748, 8, 109] });

  /* ---- L ---- */
  ggBox(o, {
    left: 23, top: 910, width: 266, height: 155, yMin: 12.5, yMax: 141.7, ticks: [50, 100], minor: [25, 75, 125],
    fmt: (v: number) => String(v), cats: lCats, boxes: lBox, pts: [lErg, lEtv1, lEtv4, lFli1, lSpop, lFoxa1, lIdh1, lOther],
    colors: ["#ea2154", "#40b5c9", "#ec7fae", "#74c274", "#9e63b8", "#f2542d", "#3aa68c", "#eba033"],
    ptSize: 5, jw: 0.34, boxW: 0.55, lw: 1.2, yName: "Putative NJs per case", yNameGap: 12, nameFont: 7.2, catFont: 6.5, tickFont: 6.5,
  });
  heat(o, { left: 296, top: 917, width: 150, height: 140, rows: pradLabels, cols: pradLabels, mat: pradMat, vmin: 0,
    cellFont: 4.8, labelFont: 6.5, cb: [480, 917, 7, 96] });

  /* ---- M ---- */
  ggBox(o, {
    left: 535, top: 907, width: 109, height: 161, yMin: 26.3, yMax: 378, ticks: [100, 200, 300], minor: [50, 150, 250, 350],
    fmt: (v: number) => String(v), cats: mCats, boxes: mBox, pts: [mClassic, mEosino], colors: ["#ea2154", "#40b5c9"],
    ptSize: 5, jw: 0.28, boxW: 0.52, lw: 1.2, yName: "Putative NJs per case", yNameGap: 16, nameFont: 7.2, catFont: 6.5, tickFont: 6.5,
  });
  heat(o, { left: 654, top: 945, width: 68, height: 69, rows: kichLabels, cols: kichLabels, mat: kichMat, vmin: 0.116,
    cellFont: 6, labelFont: 7.5, cb: [771, 945, 8, 112] });

  /* ---- free text ---- */
  const letters: [string, number, number][] = [
    ["A", 10, 10], ["B", 433, 10], ["C", 7, 183], ["D", 436, 183], ["E", 12, 328], ["F", 189, 326], ["G", 406, 328],
    ["H", 6, 527], ["I", 340, 527], ["J", 6, 722], ["K", 397, 722], ["L", 6, 908], ["M", 516, 908],
  ];
  letters.forEach(([t, x, y]) => txt(o, x, y, t, 15, { bold: true }));

  txt(o, 80, 6, "SF10417", 8.5, { bold: true });
  txt(o, 207, 10, "GBM115", 8.5, { bold: true });
  txt(o, 345, 4, "GBM115", 8.5, { bold: true });
  txt(o, 502, 15, "CELF2", 10, { bold: true });
  txt(o, 627, 15, "SNRPD2", 10, { bold: true });
  txt(o, 725, 15, "SF3A3", 10, { bold: true });
  txt(o, 63, 168, "SF10602", 8.5, { bold: true });
  txt(o, 163, 168, "SF10417", 8.5, { bold: true });
  txt(o, 263, 167, "GBM115", 8.5, { bold: true });
  txt(o, 378, 168, "GBM115", 8.5, { bold: true });
  txt(o, 497, 185, "SF10417", 6.5, { bold: true });
  txt(o, 576, 186, "SF10602", 6.5, { bold: true });
  txt(o, 666, 189, "GBM115", 6.5, { bold: true });
  txt(o, 745, 189, "GBM115", 6.5, { bold: true });

  // B legends
  const legendRows: [number, number][] = [[470, 514], [591, 636], [701, 746]];
  legendRows.forEach(([x1, x2]) => {
    txt(o, x1, 158, "\u25CF", 5);
    txt(o, x1 + 4, 158, bLegend[0], 7.5, { align: "left", color: GREEN_B });
    txt(o, x2, 158, "\u25CF", 5);
    txt(o, x2 + 4, 158, bLegend[1], 7.5, { align: "left", color: ORANGE_B });
  });

  txt(o, 95, 501, "Tumor type", 8, { bold: true, color: "#1a1a1a" });
  txt(o, 249, 506, "SF10417", 9, { color: "#222" });
  txt(o, 349, 506, "SF10602", 9, { color: "#222" });
  txt(o, 462, 481, gAllPval, 6.5, { color: "#333" });
  txt(o, 662, 481, gSfPval, 6.5, { color: "#333" });
  txt(o, 492, 502, "Neojunction", 6.5, { bold: true, color: "#1a1a1a" });
  txt(o, 637, 502, "Neojunction", 6.5, { bold: true, color: "#1a1a1a" });
  txt(o, 104, 524, "SF3A3 siRNA KD", 11, { bold: true });
  txt(o, 257, 524, "SNRPD2 siRNA KD", 11, { bold: true });
  txt(o, 407, 703, "GBM115", 9, { color: "#222" });
  txt(o, 508, 703, "GBM115", 9, { color: "#222" });
  txt(o, 122, 895, "Tumor type", 8, { bold: true, color: "#1a1a1a" });
  txt(o, 273, 748, "SKCM subtypes", 9.5, { bold: true, color: "#1a1a1a" });
  txt(o, 532, 895, "Tumor type", 8, { bold: true, color: "#1a1a1a" });
  txt(o, 687, 738, "KIRP subtypes", 9.5, { bold: true, color: "#1a1a1a" });
  txt(o, 156, 1081, "Tumor type", 8, { bold: true, color: "#1a1a1a" });
  txt(o, 372, 911, "PRAD subtypes", 9, { bold: true, color: "#1a1a1a" });
  txt(o, 590, 1082, "Tumor type", 8, { bold: true, color: "#1a1a1a" });
  txt(o, 688, 936, "KICH subtypes", 9.5, { bold: true, color: "#1a1a1a" });

  return {
    animation: false,
    backgroundColor: "#ffffff",
    textStyle: { fontFamily: FONT },
    grid: o.grid,
    xAxis: o.xAxis,
    yAxis: o.yAxis,
    series: o.series,
    visualMap: o.visualMap,
    graphic: o.graphic,
  };
}

export default function App() {
  const ref = useRef<HTMLDivElement>(null);
  useEffect(() => {
    if (!ref.current) return;
    const chart = echarts.init(ref.current, null, { renderer: "svg" });
    chart.setOption(buildOption());
    return () => chart.dispose();
  }, []);
  return (
    <div
      ref={ref}
      style={{ position: "absolute", left: 0, top: 0, width: 792, height: 1087, background: "#fff" }}
    />
  );
}
